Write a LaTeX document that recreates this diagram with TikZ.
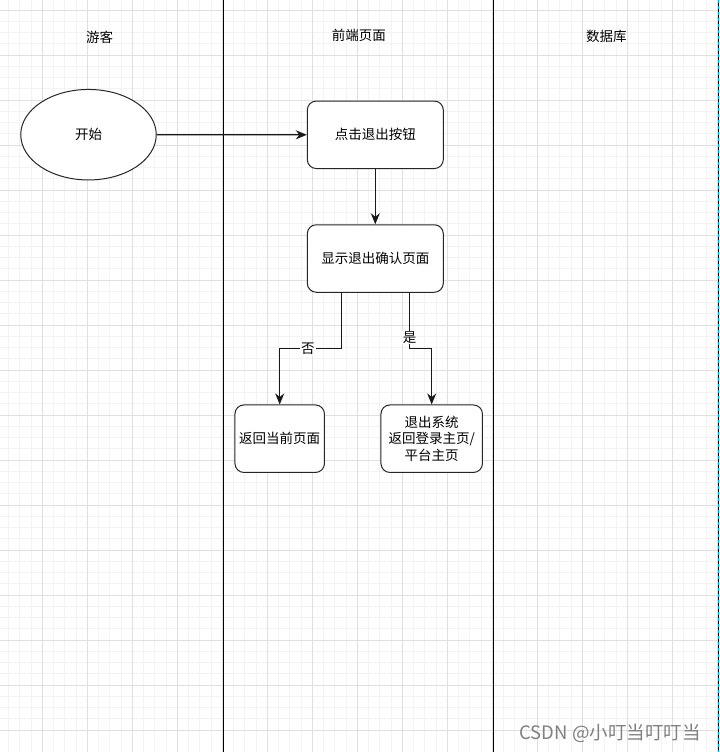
\documentclass[tikz,border=0pt]{standalone}
\usepackage{fontspec}
\setmainfont{Noto Sans CJK SC}
\usetikzlibrary{arrows.meta,shapes.geometric,calc}
\definecolor{gridmajor}{RGB}{224,224,224}
\definecolor{gridminor}{RGB}{243,243,243}
\definecolor{selblue}{RGB}{0,160,255}
\tikzset{
  lane/.style={draw=black,line width=1.5bp},
  box/.style={draw=black!85,line width=1bp,rounded corners=9bp,fill=white,align=center,inner sep=0pt,minimum height=67.5bp,font=\fontsize{13.5bp}{16.5bp}\selectfont},
  startnode/.style={ellipse,draw=black!85,line width=1bp,fill=white,inner sep=0pt,minimum width=135.5bp,minimum height=90.5bp,font=\fontsize{13.5bp}{16.5bp}\selectfont},
  header/.style={font=\fontsize{13.5bp}{16.5bp}\selectfont},
  flow/.style={draw=black!90,line width=1.1bp,-{Stealth[length=11bp,width=9bp,inset=3.5bp]}},
  edgelabel/.style={fill=white,inner sep=1bp,font=\fontsize{13.5bp}{16.5bp}\selectfont},
  watermark/.style={text=black!50,font=\fontsize{18.5bp}{21bp}\selectfont}
}
\begin{document}
\begin{tikzpicture}[x=1bp,y=-1bp]
\useasboundingbox (0,0) rectangle (720,752);
\fill[white] (0,0) rectangle (720,752);
\begin{scope}
\clip (0,0) rectangle (720,752);
\foreach \i in {0,...,64} {
  \draw[gridminor,line width=0.8bp] ({8.55+11.25*\i},0) -- ++(0,752);
  \draw[gridminor,line width=0.8bp] (0,{10+11.25*\i}) -- ++(720,0);
}
\foreach \i in {-1,...,16} {
  \draw[gridmajor,line width=0.9bp] ({42.3+45*\i},0) -- ++(0,752);
  \draw[gridmajor,line width=0.9bp] (0,{10+45*\i}) -- ++(720,0);
}
\end{scope}
% selection edge on the right
\draw[black,line width=1.2bp] (718.6,0) -- (718.6,752);
\draw[selblue,line width=1.2bp,dash pattern=on 3bp off 3bp] (718.6,0) -- (718.6,752);
% lanes
\coordinate (l1top) at (223.3,0);
\coordinate (l1bot) at (223.3,752);
\coordinate (l2top) at (493.3,0);
\coordinate (l2bot) at (493.3,752);
\draw[lane] (l1top) -- (l1bot);
\draw[lane] (l2top) -- (l2bot);
% headers
\node[header] (h1) at (99.5,37.5) {游客};
\node[header] (h2) at (358.8,35.5) {前端页面};
\node[header] (h3) at (606.3,36.5) {数据库};
% nodes
\node[startnode] (start) at (88.5,134.7) {开始};
\node[box,minimum width=136bp] (click) at (375.3,134.8) {点击退出按钮};
\node[box,minimum width=136bp] (confirm) at (375.3,258.5) {显示退出确认页面};
\node[box,minimum width=89.5bp] (back) at (279.7,438.7) {返回当前页面};
\node[box,minimum width=101.5bp] (exit) at (431.7,438.7) {退出系统\\返回登录主页/\\平台主页};
% edges
\draw[flow] (start.east) -- (click.west);
\draw[flow] (click.south) -- (confirm.north);
\coordinate (noOut) at ($(confirm.south west)!0.25!(confirm.south east)$);
\coordinate (yesOut) at ($(confirm.south west)!0.75!(confirm.south east)$);
\draw[flow] (noOut) -- ++(0,56) -| node[edgelabel,pos=0.27] {否} (back.north);
\draw[flow] (yesOut) -- node[edgelabel,pos=0.8] {是} ++(0,56) -| (exit.north);
% watermark
\node[watermark] (wm) at (610,733) {CSDN @小叮当叮叮当};
\end{tikzpicture}
\end{document}
